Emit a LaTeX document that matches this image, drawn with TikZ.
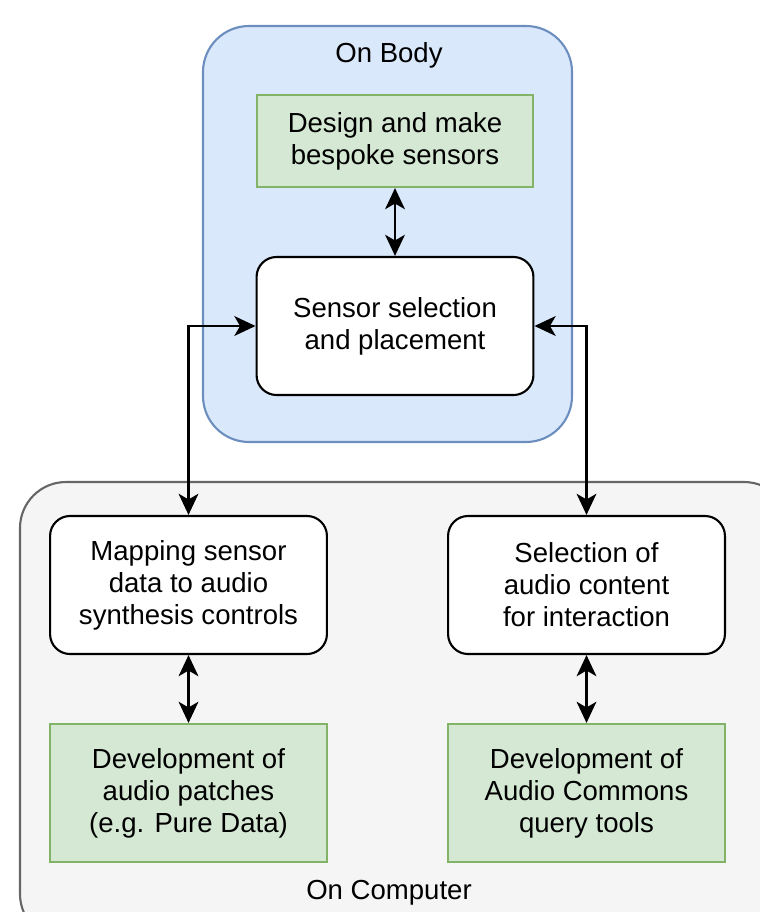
\documentclass[tikz,border=0pt]{standalone}
\usepackage{fontspec}
\setmainfont{Liberation Sans}
\usetikzlibrary{arrows.meta}
\definecolor{bodyfill}{HTML}{DAE8FC}
\definecolor{bodyline}{HTML}{6C8EBF}
\definecolor{compfill}{HTML}{F5F5F5}
\definecolor{compline}{HTML}{666666}
\definecolor{taskfill}{HTML}{D5E8D4}
\definecolor{taskline}{HTML}{82B366}
\newcommand{\drawlink}{\draw[line width=1.8pt, {Stealth[length=15pt,width=14pt,inset=4pt]}-{Stealth[length=15pt,width=14pt,inset=4pt]}]}
\tikzset{
  txt/.style={font=\fontsize{19.6}{22.8}\selectfont, align=center},
  stage/.style={txt, draw=black, fill=white, line width=1.5pt, rounded corners=0.5cm,
    minimum width=6.92cm, minimum height=3.45cm, inner sep=0pt},
  task/.style={txt, draw=taskline, fill=taskfill, line width=1.5pt,
    minimum width=6.92cm, minimum height=3.45cm, inner sep=0pt},
}

\begin{document}
\begin{tikzpicture}[x=0.025cm, y=-0.025cm]
\useasboundingbox (0,0) rectangle (760,912);
\clip (0,0) rectangle (760,912);
% the two areas
\draw[line width=1.5pt, draw=bodyline, fill=bodyfill, rounded corners=1.15cm] (203,26) rectangle (572,442);
\draw[line width=1.5pt, draw=compline, fill=compfill, rounded corners=1.15cm] (20,482) rectangle (790,940);
\node[txt] (onbody) at (389,55) {On Body};
\node[txt] (oncomp) at (389,893) {On Computer};
% boxes
\node[task, minimum height=2.3cm] (design) at (395,141) {Design and make\\bespoke sensors};
\node[stage] (sensor) at (395,326) {Sensor selection\\and placement};
\node[stage] (mapping) at (188.5,585) {Mapping sensor\\data to audio\\synthesis controls};
\node[stage] (select) at (586.5,585) {Selection of\\audio content\\for interaction};
\node[task] (patches) at (188.5,793) {Development of\\audio patches\\(e.g. Pure Data)};
\node[task] (query) at (586.5,793) {Development of\\Audio Commons\\query tools};
% links
\drawlink (design) -- (sensor);
\drawlink (sensor.west) -| (mapping.north);
\drawlink (sensor.east) -| (select.north);
\drawlink (mapping) -- (patches);
\drawlink (select) -- (query);
\end{tikzpicture}
\end{document}
